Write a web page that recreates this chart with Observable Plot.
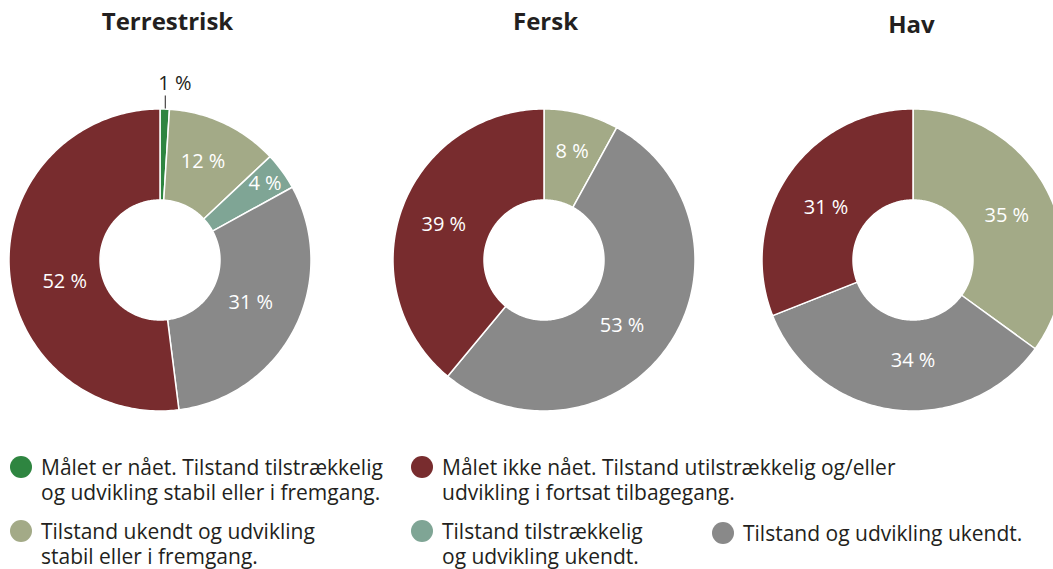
<!DOCTYPE html>
<html><head><meta charset="utf-8">
<script src="https://cdn.jsdelivr.net/npm/d3@7"></script>
<script src="https://cdn.jsdelivr.net/npm/@observablehq/plot@0.6"></script>
<style>
html,body{margin:0;padding:0;overflow:hidden;background:#fff;}
#wrap{position:relative;width:1053px;height:569px;font-family:"Open Sans",sans-serif;color:#231f20;overflow:hidden;}
#wrap svg{position:absolute;left:0;top:0;overflow:hidden;}
.leg{position:absolute;font-size:21px;line-height:24px;height:24px;white-space:nowrap;}
.dot{position:absolute;width:22px;height:22px;border-radius:50%;}
</style></head><body><div id="wrap"></div>
<script>
// ---- data ----
const regions = ["Terrestrisk", "Fersk", "Hav"];
// categories in clockwise drawing order
const categories = ["maal", "ukendtStabil", "tilstrUkendt", "ukendt", "ikkeMaal"];
const colors = ["#2e8540", "#a3aa87", "#7fa595", "#898989", "#782c2e"];
const terrestrisk = [1, 12, 4, 31, 52];
const fersk = [0, 8, 0, 53, 39];
const hav = [0, 35, 0, 34, 31];
const legendOrder = ["maal", "ikkeMaal", "ukendtStabil", "tilstrUkendt", "ukendt"];
const legendLabels = [
  ["Målet er nået. Tilstand tilstrækkelig", "og udvikling stabil eller i fremgang."],
  ["Målet ikke nået. Tilstand utilstrækkelig og/eller", "udvikling i fortsat tilbagegang."],
  ["Tilstand ukendt og udvikling", "stabil eller i fremgang."],
  ["Tilstand tilstrækkelig", "og udvikling ukendt."],
  ["Tilstand og udvikling ukendt."]
];

// ---- layout ----
const W = 1053, H = 440;
const centersX = [160, 544, 913], cy = 260, r0 = 60, r1 = 151, rl = 107;
const titleX = [167, 545, 911], titleY = [22, 22, 25];
const seriesValues = [terrestrisk, fersk, hav];
// hand placement nudges for slice labels (per region, per category)
const labelNudge = [
  [[0, 0], [-3, -2], [18, -14], [-5, -6], [11, 14]],
  [[0, 0], [1, -5], [0, 0], [-11, 5], [0, 0]],
  [[0, 0], [-2, 4], [0, 0], [13, -6], [1, 7]]
];

const arcs = [], labels = [], outside = [], leaders = [];
regions.forEach((reg, i) => {
  const cx = centersX[i];
  const rows = categories.map((c, j) => ({cat: c, value: seriesValues[i][j]}));
  const pie = d3.pie().sort(null).value(d => d.value)(rows);
  pie.forEach((p, j) => {
    if (!p.data.value) return;
    const a0 = p.startAngle, a1 = p.endAngle;
    const n = Math.max(2, Math.ceil((a1 - a0) / (Math.PI / 180)));
    for (let k = 0; k <= n; k++) {
      const a = a0 + (a1 - a0) * k / n;
      arcs.push({key: reg + j, cat: p.data.cat,
        xo: cx + r1 * Math.sin(a), yo: cy - r1 * Math.cos(a),
        xi: cx + r0 * Math.sin(a), yi: cy - r0 * Math.cos(a)});
    }
    const m = (a0 + a1) / 2;
    const txt = p.data.value + " %";
    if (p.data.value < 3) {
      const lx = cx + (r1 + 1) * Math.sin(m);
      leaders.push({x1: lx, y1: cy - r1 - 1, x2: lx, y2: cy - r1 - 14});
      outside.push({x: lx - 7, y: cy - r1 - 26, text: txt});
    } else {
      const [dx, dy] = labelNudge[i][j];
      labels.push({x: cx + rl * Math.sin(m) + dx, y: cy - rl * Math.cos(m) + dy, text: txt});
    }
  });
});

const svg = Plot.plot({
  width: W, height: H,
  margin: 0,
  x: {domain: [0, W], range: [0, W], axis: null},
  y: {domain: [0, H], range: [0, H], axis: null},
  color: {domain: categories, range: colors},
  style: {fontFamily: '"Open Sans", sans-serif', background: "white"},
  marks: [
    Plot.area(arcs, {x1: "xo", y1: "yo", x2: "xi", y2: "yi", z: "key", fill: "cat",
      stroke: "white", strokeWidth: 1.5, clip: true}),
    Plot.text(labels, {x: "x", y: "y", text: "text", fill: "white", fontSize: 20, clip: true}),
    Plot.link(leaders, {x1: "x1", y1: "y1", x2: "x2", y2: "y2", stroke: "#231f20", strokeWidth: 1}),
    Plot.text(outside, {x: "x", y: "y", text: "text", fill: "#231f20", fontSize: 20, textAnchor: "start"}),
    Plot.text(regions, {x: (d, i) => titleX[i], y: (d, i) => titleY[i], text: d => d,
      fontSize: 24, fontWeight: "bold", fill: "#231f20"})
  ]
});
const wrap = document.getElementById("wrap");
wrap.appendChild(svg);

// ---- legend (HTML below the chart) ----
const legPos = [[21, 467], [422, 467], [21, 531], [422, 531], [723, 533]];
legendOrder.forEach((c, i) => {
  const [x, y] = legPos[i];
  const dot = document.createElement("div");
  dot.className = "dot";
  dot.style.left = (x - 11) + "px";
  dot.style.top = (y - 11) + "px";
  dot.style.background = colors[categories.indexOf(c)];
  wrap.appendChild(dot);
  legendLabels[i].forEach((line, k) => {
    const t = document.createElement("div");
    t.className = "leg";
    t.style.left = (x + 20) + "px";
    t.style.top = (y - 12 + k * 25) + "px";
    t.textContent = line;
    wrap.appendChild(t);
  });
});
</script></body></html>
